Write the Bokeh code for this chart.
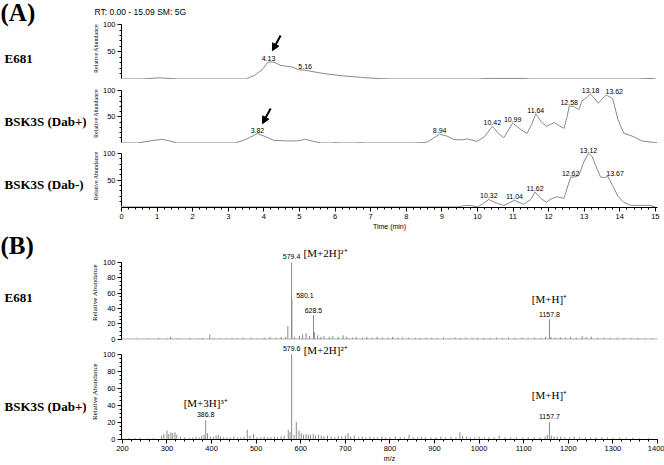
from bokeh.plotting import figure
from bokeh.models import (Range1d, Label, LabelSet, ColumnDataSource, Arrow, NormalHead,
                          FixedTicker, SingleIntervalTicker, Span)
from bokeh.layouts import column, row
from bokeh.embed import file_html
from bokeh.resources import INLINE
from bokeh.core.properties import value

# ---------------- data ----------------
# Panel A: chromatograms (retention time in min, relative abundance)
a1_rt = [0, 0.55, 0.8, 1.05, 1.3, 1.6, 3.5, 3.75, 3.95, 4.09, 4.13, 4.28, 4.47, 4.79, 4.98,
         5.16, 5.5, 5.78, 6.25, 6.71, 7.18, 7.6, 10.0, 10.2, 10.45, 11.3, 11.5, 14.55, 14.75,
         15.0]
a1_ab = [0, 0, 1, 2, 1, 0, 0, 7, 17, 29, 31, 31, 25, 22, 17, 16, 12, 9, 5.5, 3, 0.8, 0, 0,
         0.8, 1, 1, 0, 0, 1, 0.5]
a1_peak_rt = [4.13, 5.16]
a1_peak_ab = [31, 16]

a2_rt = [0, 0.45, 0.8, 1.14, 1.35, 1.55, 3.2, 3.5, 3.82, 4.05, 4.28, 4.6, 4.95, 5.17, 5.4,
         5.6, 5.9, 6.0, 6.15, 6.6, 6.72, 6.85, 8.2, 8.45, 8.6, 8.94, 9.15, 9.34, 9.6, 9.71,
         9.99, 10.2, 10.42, 10.6, 10.74, 10.85, 10.99, 11.2, 11.39, 11.52, 11.64, 11.8, 11.94,
         12.16, 12.3, 12.43, 12.52, 12.58, 12.7, 12.85, 12.94, 13.05, 13.18, 13.4, 13.5,
         13.62, 13.8, 13.95, 14.11, 14.39, 14.62, 14.95, 15.06]
a2_ab = [0, 0, 4, 7, 4, 0, 0, 7, 18, 12, 5, 4, 4, 7, 3, 0, 0, 0.7, 0, 0, 0.7, 0, 0, 0.7, 2,
         17, 13, 6.5, 6, 8, 3, 12, 32, 18, 10, 22, 38, 27, 18, 35, 56, 40, 32, 39, 33, 28, 50,
         71, 70, 64, 81, 86, 94, 76, 84, 92, 85, 45, 19, 12, 4, 1, 0.5]
a2_peak_rt = [3.82, 8.94, 10.42, 10.99, 11.64, 12.58, 13.18, 13.62]
a2_peak_ab = [18, 17, 32, 38, 56, 71, 94, 92]

a3_rt = [0, 9.45, 9.6, 9.71, 9.85, 10.0, 10.15, 10.32, 10.5, 10.74, 10.9, 11.04, 11.3, 11.5,
         11.62, 11.8, 11.94, 12.1, 12.24, 12.43, 12.52, 12.62, 12.72, 12.85, 13.0, 13.12, 13.22,
         13.32, 13.46, 13.55, 13.67, 13.8, 13.95, 14.11, 14.3, 14.85, 15.0]
a3_ab = [0, 0, 2, 3, 2, 0, 6, 14, 8, 3, 8, 12.5, 5, 14, 28, 15, 9, 16, 19, 16, 35, 56, 56, 59,
         86, 100, 95, 78, 56, 55, 57, 40, 20, 9, 3, 3, 0]
a3_peak_rt = [10.32, 11.04, 11.62, 12.62, 13.12, 13.67]
a3_peak_ab = [14, 12.5, 28, 56, 100, 57]

# arrows (tail rt, tail abundance, tip rt, tip abundance)
a1_arrow = [4.47, 80, 4.24, 52]
a2_arrow = [4.19, 66, 3.96, 37]

# Panel B: mass spectra (m/z, relative abundance)
b1_mz = [571.0, 579.4, 580.1, 628.5, 631.0, 1157.8,
         232, 258, 281, 300, 308, 325, 352, 370, 380, 396, 405, 418, 432, 446, 458, 471, 489,
         502, 518, 531, 545, 556, 566, 586, 597, 604, 612, 620, 638, 645, 652, 664, 672, 684,
         695, 703, 716, 724, 738, 748, 760, 771, 783, 795, 806, 818, 828, 842, 857, 868, 881,
         894, 905, 920, 934, 946, 958, 970, 984, 996, 1010, 1024, 1039, 1052, 1066, 1081, 1096,
         1110, 1124, 1138, 1149, 1161, 1170, 1182, 1194, 1205, 1218, 1231, 1240, 1252, 1266,
         1280, 1294, 1310, 1325, 1340, 1356, 1372, 1388]
b1_ab = [17, 100, 53, 31, 9, 26,
         1, 1, 1.5, 1, 3, 1, 1.5, 1, 1.5, 6, 1.5, 1, 1, 1.5, 1, 2, 2,
         1, 2, 3, 2, 3, 3, 3, 4, 6, 8, 4, 5, 3, 4, 3, 4, 3,
         5, 3, 2, 3, 2, 3, 2, 3, 2, 2, 3, 2, 2, 2, 1.5, 1.5, 2,
         2, 1.5, 2, 1.5, 2, 1.5, 2, 1.5, 2, 1.5, 1.5, 2, 1.5, 2, 1.5, 2,
         1.5, 2, 1.5, 3, 3, 2, 2.5, 2, 3, 2, 4, 2.5, 3, 2,
         2, 1.5, 2, 1.5, 1.5, 1.5, 1, 1]
b1_peak_mz = [579.4, 628.5, 1157.8]
b1_peak_ab = [100, 31, 26]
b1_side_mz = [580.1]
b1_side_ab = [53]

b2_mz = [579.6, 386.8, 572.0, 590.0, 1157.7,
         215, 228, 240, 256, 270, 288, 293, 300, 304, 309, 313, 318, 322, 330, 340, 350, 358,
         365, 372, 378, 383, 391, 397, 404, 410, 415, 420, 427, 435, 442, 450, 458, 466, 473,
         480, 486, 494, 502, 510, 518, 526, 533, 541, 548, 556, 563, 576, 585, 596, 601, 606,
         612, 617, 622, 628, 633, 640, 646, 652, 660, 668, 676, 684, 692, 700, 706, 712, 720,
         730, 738, 746, 755, 764, 772, 782, 790, 800, 812, 823, 833, 843, 852, 862, 870, 880,
         892, 903, 914, 925, 937, 948, 957, 963, 972, 980, 990, 1000, 1012, 1022, 1034, 1045,
         1058, 1070, 1084, 1098, 1110, 1124, 1137, 1148, 1153, 1162, 1168, 1175, 1183, 1192,
         1203, 1213, 1225, 1238, 1250, 1262, 1275, 1288, 1300, 1315, 1330, 1345, 1360, 1380]
b2_ab = [100, 22, 11, 20, 20,
         1, 1, 1.5, 1, 1, 4, 6, 10, 6, 8, 7, 8, 5, 3, 2, 1.5, 2,
         3, 2, 4, 5, 7, 3, 3, 4, 5, 3, 2, 2, 1.5, 3, 2, 2, 3,
         11, 4, 6, 2, 2, 3, 2, 2, 3, 2, 3, 4, 8, 5, 10, 7, 5,
         6, 5, 5, 6, 4, 5, 4, 3, 4, 3, 2, 4, 3, 4, 7, 3, 4,
         2, 3, 2, 3, 2, 2, 3, 2, 2, 3, 2, 2, 5, 2, 2, 3, 2,
         2, 2, 3, 2, 3, 2, 8, 4, 3, 2, 2, 3, 2, 2, 2, 4,
         2, 2, 2, 2, 2, 2, 2, 3, 5, 4, 3, 3, 3, 2,
         2, 3, 2, 2, 2, 2, 2, 2, 1.5, 1.5, 1.5, 1.5, 1, 1]
b2_peak_mz = [579.6, 386.8, 1157.7]
b2_peak_ab = [100, 22, 20]

a_yticks = [50, 100]
a_yminor = [10, 20, 30, 40, 60, 70, 80, 90]

sample_names = ["E681", "BSK3S (Dab+)", "BSK3S (Dab-)", "E681", "BSK3S (Dab+)"]
section_names = ["(A)", "(B)"]

# ---------------- style ----------------
SANS = "Liberation Sans"
SERIF = "Liberation Serif"
TRACE = "#8a8a8a"
LW = 86            # width of the left label strip
W = 664 - LW       # width of the data figures
BL, BR = 35, 7
LABEL_NUDGE = {13.62: 8, 13.67: 7}   # px shift of crowded peak labels


def make_fig(height, top, bottom, xr, yr, with_xaxis, ylab_size="6px", title=None):
    kw = dict(title=title) if title else {}
    p = figure(width=W, height=height, x_range=xr, y_range=yr, output_backend="svg",
               toolbar_location=None, x_axis_type="linear" if with_xaxis else None,
               min_border_left=BL, min_border_right=BR, min_border_top=top,
               min_border_bottom=bottom, **kw)
    p.xgrid.visible = False
    p.ygrid.visible = False
    p.outline_line_color = None
    p.background_fill_color = "white"
    p.border_fill_color = "white"
    axes = list(p.yaxis) + (list(p.xaxis) if with_xaxis else [])
    for ax in axes:
        ax.axis_line_color = "black"
        ax.major_tick_line_color = "black"
        ax.minor_tick_line_color = "black"
        ax.major_tick_out = 4
        ax.major_tick_in = 0
        ax.minor_tick_out = 2
        ax.minor_tick_in = 0
        ax.major_label_text_font = SANS
        ax.major_label_text_font_size = "7.5px"
        ax.major_label_text_color = "black"
        ax.major_label_standoff = 2
        ax.axis_label_standoff = 1
        ax.axis_label_text_font_style = "normal"
        ax.axis_label_text_color = "black"
    p.yaxis.axis_label = "Relative Abundance"
    p.yaxis.axis_label_text_font = SERIF
    p.yaxis.axis_label_text_font_size = ylab_size
    p.yaxis.bounds = (0, 100)
    if with_xaxis:
        p.xaxis.axis_label_text_font = SANS
        p.xaxis.axis_label_text_font_size = "7px"
    return p


def peak_labels(p, xs, ys, fmt, dy=1, size="7px"):
    src = ColumnDataSource(dict(x=xs, y=ys, t=[fmt.format(v) for v in xs],
                                dx=[LABEL_NUDGE.get(v, 0) for v in xs]))
    p.add_layout(LabelSet(x="x", y="y", text="t", source=src, text_align="center",
                          text_baseline="bottom", x_offset="dx", y_offset=dy,
                          text_font=value(SANS), text_font_size=value(size),
                          text_color="black"))


def ion_label(p, x, y, text, dy, dx=0, align="center"):
    p.add_layout(Label(x=x, y=y, text=text, x_offset=dx, y_offset=dy, text_font=SERIF,
                       text_font_size="11px", text_align=align, text_baseline="middle",
                       text_color="black"))


def arrow(p, a):
    p.add_layout(Arrow(end=NormalHead(size=7, fill_color="black", line_color="black"),
                       x_start=a[0], y_start=a[1], x_end=a[2], y_end=a[3],
                       line_width=2, line_color="black"))


def chrom(p, rt, ab):
    p.line(rt, ab, line_color=TRACE, line_width=1)
    p.yaxis.ticker = FixedTicker(ticks=a_yticks, minor_ticks=a_yminor)


XA = (0, 15.06)
XB = (198, 1400)

# A1  (canvas y 0..79)
fA1 = make_fig(79, 17, 0, Range1d(*XA), Range1d(-1, 113), False,
               title="RT: 0.00 - 15.09  SM: 5G")
fA1.title.text_font = SANS
fA1.title.text_font_size = "8.5px"
fA1.title.text_font_style = "normal"
fA1.title.text_color = "black"
fA1.title.align = "left"
fA1.title.offset = -27
fA1.title.standoff = 2
chrom(fA1, a1_rt, a1_ab)
peak_labels(fA1, a1_peak_rt, a1_peak_ab, "{:.2f}")
arrow(fA1, a1_arrow)

# A2  (canvas y 79..143)
fA2 = make_fig(64, 4, 0, Range1d(*XA), Range1d(-1, 114), False)
chrom(fA2, a2_rt, a2_ab)
peak_labels(fA2, a2_peak_rt, a2_peak_ab, "{:.2f}")
arrow(fA2, a2_arrow)

# A3  (canvas y 143..232)
fA3 = make_fig(89, 1, 24, Range1d(*XA), Range1d(-1, 117), True)
chrom(fA3, a3_rt, a3_ab)
peak_labels(fA3, a3_peak_rt, a3_peak_ab, "{:.2f}")
fA3.xaxis.ticker = SingleIntervalTicker(interval=1, num_minor_ticks=5)
fA3.xaxis.axis_label = "Time (min)"

# B1  (canvas y 232..343)
fB1 = make_fig(111, 13, 4, Range1d(*XB), Range1d(-0.5, 122.2), False, ylab_size="7px")
fB1.add_layout(Span(location=0, dimension="width", line_color=TRACE, line_width=1))
fB1.segment(x0=b1_mz, y0=[0] * len(b1_mz), x1=b1_mz, y1=b1_ab, line_color=TRACE, line_width=1)
fB1.yaxis.ticker = SingleIntervalTicker(interval=20, num_minor_ticks=4)
peak_labels(fB1, b1_peak_mz[:1], b1_peak_ab[:1], "{:.1f}", dy=4)
peak_labels(fB1, b1_peak_mz[1:], b1_peak_ab[1:], "{:.1f}", dy=2)
for mz, ab in zip(b1_side_mz, b1_side_ab):
    fB1.add_layout(Label(x=mz, y=ab, text="{:.1f}".format(mz), x_offset=13, y_offset=1,
                         text_font=SANS, text_font_size="7px", text_align="center",
                         text_baseline="bottom", text_color="black"))
ion_label(fB1, b1_peak_mz[0], 100, "[M+2H]²⁺", 10, dx=12, align="left")
ion_label(fB1, b1_peak_mz[2], b1_peak_ab[2], "[M+H]⁺", 20)

# B2  (canvas y 343..464)
fB2 = make_fig(121, 0, 23, Range1d(*XB), Range1d(-0.5, 112.6), True, ylab_size="7px")
fB2.segment(x0=b2_mz, y0=[0] * len(b2_mz), x1=b2_mz, y1=b2_ab, line_color=TRACE, line_width=1)
fB2.yaxis.ticker = SingleIntervalTicker(interval=20, num_minor_ticks=4)
fB2.xaxis.ticker = SingleIntervalTicker(interval=100, num_minor_ticks=5)
fB2.xaxis.axis_label = "m/z"
peak_labels(fB2, b2_peak_mz[:1], b2_peak_ab[:1], "{:.1f}", dy=3)
peak_labels(fB2, b2_peak_mz[1:], b2_peak_ab[1:], "{:.1f}", dy=3)
ion_label(fB2, b2_peak_mz[0], 100, "[M+2H]²⁺", 4, dx=12, align="left")
ion_label(fB2, b2_peak_mz[1], b2_peak_ab[1], "[M+3H]³⁺", 17)
ion_label(fB2, b2_peak_mz[2], b2_peak_ab[2], "[M+H]⁺", 27)

# left strip with the sample names (data units = page pixels)
H = 79 + 64 + 89 + 111 + 121
left = figure(width=LW, height=H, x_range=Range1d(0, LW), y_range=Range1d(H, 0),
              x_axis_type=None, y_axis_type=None, output_backend="svg",
              toolbar_location=None, min_border=0)
left.outline_line_color = None
left.xgrid.visible = False
left.ygrid.visible = False
sample_y = [58, 121, 184, 297, 406]
for name, yy in zip(sample_names, sample_y):
    left.add_layout(Label(x=4, y=yy, text=name, text_font=SERIF, text_font_style="bold",
                          text_font_size="13px", text_baseline="middle", text_align="left",
                          text_color="black"))
for name, yy in zip(section_names, [12, 245]):
    left.add_layout(Label(x=0, y=yy, text=name, text_font=SERIF, text_font_style="bold",
                          text_font_size="25px", text_baseline="middle", text_align="left",
                          text_color="black"))

layout = row(left, column(fA1, fA2, fA3, fB1, fB2, spacing=0), spacing=0)

with open("out.html", "w") as f:
    f.write(file_html(layout, INLINE))
